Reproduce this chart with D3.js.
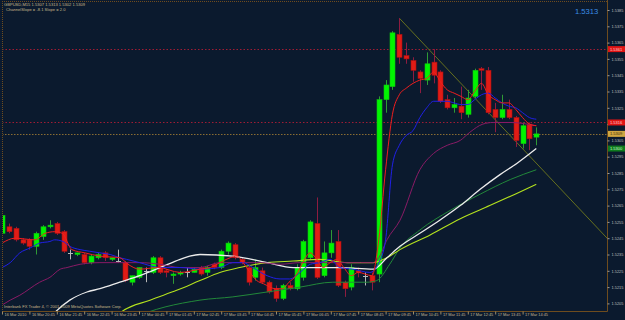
<!DOCTYPE html>
<html><head><meta charset="utf-8">
<script src="https://cdn.jsdelivr.net/npm/d3@7"></script>
<style>html,body{margin:0;padding:0;background:#0b1a2e;}svg{display:block;}</style>
</head><body><svg id="c" width="625" height="320"></svg>
<script>
// ---------- DATA ----------
const symbol = "GBPUSD,M15";
const opens  = [1.5248,1.5252,1.5251,1.5244,1.5244,1.5240,1.5246,1.5252,1.5254,1.5249,1.5236,1.5235,1.5235,1.5230,1.5233,1.5236,1.5232,1.5231,1.5230,1.5218,1.5221,1.5225,1.5224,1.5233,1.5225,1.5222,1.5223,1.5224,1.5224,1.5227,1.5224,1.5229,1.5227,1.5237,1.5241,1.5232,1.5227,1.5221,1.5225,1.5218,1.5214,1.5208,1.5216,1.5214,1.5221,1.5233,1.5254,1.5222,1.5236,1.5243,1.5218,1.5215,1.5225,1.5222,1.5222,1.5223,1.5330,1.5338,1.5370,1.5357,1.5354,1.5347,1.5342,1.5353,1.5347,1.5330,1.5325,1.5326,1.5321,1.5332,1.5349,1.5348,1.5324,1.5319,1.5324,1.5319,1.5303,1.5315,1.5307];
const highs  = [1.5260,1.5254,1.5252,1.5245,1.5245,1.5249,1.5253,1.5256,1.5255,1.5250,1.5238,1.5236,1.5236,1.5235,1.5236,1.5237,1.5233,1.5238,1.5231,1.5222,1.5227,1.5227,1.5234,1.5234,1.5226,1.5224,1.5225,1.5227,1.5227,1.5228,1.5228,1.5230,1.5238,1.5243,1.5242,1.5233,1.5229,1.5232,1.5227,1.5219,1.5216,1.5217,1.5218,1.5229,1.5244,1.5256,1.5270,1.5243,1.5250,1.5250,1.5219,1.5229,1.5227,1.5224,1.5224,1.5332,1.5342,1.5372,1.5380,1.5365,1.5356,1.5348,1.5359,1.5361,1.5348,1.5333,1.5331,1.5338,1.5336,1.5349,1.5350,1.5350,1.5328,1.5333,1.5330,1.5320,1.5316,1.5316,1.5313];
const lows   = [1.5246,1.5248,1.5243,1.5241,1.5238,1.5235,1.5244,1.5251,1.5247,1.5236,1.5232,1.5234,1.5229,1.5229,1.5232,1.5231,1.5231,1.5230,1.5218,1.5216,1.5220,1.5218,1.5223,1.5223,1.5221,1.5217,1.5222,1.5221,1.5224,1.5222,1.5222,1.5226,1.5226,1.5235,1.5232,1.5229,1.5216,1.5219,1.5217,1.5211,1.5206,1.5207,1.5213,1.5213,1.5219,1.5232,1.5220,1.5221,1.5233,1.5215,1.5209,1.5213,1.5221,1.5216,1.5213,1.5218,1.5322,1.5336,1.5352,1.5352,1.5341,1.5334,1.5339,1.5340,1.5328,1.5324,1.5322,1.5318,1.5319,1.5331,1.5336,1.5321,1.5310,1.5318,1.5318,1.5301,1.5300,1.5299,1.5302];
const closes = [1.5259,1.5249,1.5244,1.5242,1.5240,1.5248,1.5252,1.5253,1.5248,1.5237,1.5236,1.5236,1.5230,1.5234,1.5235,1.5233,1.5233,1.5231,1.5219,1.5222,1.5227,1.5225,1.5233,1.5224,1.5224,1.5223,1.5224,1.5224,1.5226,1.5223,1.5227,1.5227,1.5237,1.5242,1.5233,1.5230,1.5218,1.5227,1.5218,1.5212,1.5208,1.5216,1.5214,1.5227,1.5243,1.5255,1.5221,1.5236,1.5242,1.5216,1.5214,1.5227,1.5224,1.5222,1.5218,1.5330,1.5339,1.5371,1.5356,1.5355,1.5348,1.5343,1.5352,1.5345,1.5329,1.5325,1.5327,1.5322,1.5331,1.5348,1.5348,1.5322,1.5319,1.5324,1.5319,1.5305,1.5314,1.5306,1.5309];

// moving averages: [bar index, price]
const maRed = [[0,1.5242],[1.9,1.5245],[4.8,1.5244],[6.3,1.5248],[7.7,1.5249],[8.8,1.5248],[10.2,1.5238],[12.1,1.5236],[14.3,1.5234],[17.2,1.5233],[18.4,1.5229],[20.1,1.5226],[22.8,1.5227],[26,1.5224],[28.9,1.5226],[30.4,1.5227],[31.8,1.5230],[33.3,1.5233],[34.3,1.5234],[35.2,1.5230],[36.2,1.5224],[37.2,1.5219],[38.2,1.5217],[39.9,1.5214],[40.9,1.5214],[41.9,1.5218],[42.9,1.5222],[43.9,1.5230],[45,1.5236],[45.8,1.5233],[46.9,1.5227],[47.9,1.5230],[48.9,1.5232],[49.9,1.5227],[51,1.5222],[52,1.5224],[54,1.5222],[55,1.5244],[56,1.5287],[57,1.5321],[58,1.5333],[59,1.5337],[60,1.5340],[61,1.5342],[62,1.5343],[63,1.5347],[64,1.5341],[65,1.5336],[66,1.5334],[67,1.5332],[68,1.5330],[69,1.5335],[70,1.5340],[71,1.5333],[72,1.5330],[73,1.5328],[74,1.5328],[75,1.5324],[76,1.5319],[77,1.5315],[78,1.5314]];
const maBlue = [[0,1.5227],[1.2,1.5230],[2.6,1.5236],[4.1,1.5239],[5.5,1.5242],[7,1.5243],[7.7,1.5244],[8.9,1.5243],[9.9,1.5240],[11.4,1.5238],[12.8,1.5237],[14.3,1.5236],[15.8,1.5235],[17.2,1.5233],[18.2,1.5232],[20.1,1.5230],[23.1,1.5227],[26,1.5227],[28.9,1.5226],[31.8,1.5227],[33.7,1.5230],[35.2,1.5230],[36.6,1.5227],[38.7,1.5222],[40.6,1.5220],[42,1.5220],[43.5,1.5224],[45,1.5229],[46.4,1.5230],[47.9,1.5232],[49.3,1.5227],[51.2,1.5226],[53.7,1.5224],[55,1.5230],[56,1.5244],[57,1.5290],[58,1.5302],[59,1.5308],[60,1.5311],[61,1.5319],[62,1.5325],[63,1.5329],[64,1.5329],[65,1.5329],[66,1.5328],[67,1.5327],[68,1.5327],[69,1.5330],[70,1.5333],[71,1.5334],[72,1.5331],[73,1.5328],[74,1.5326],[75,1.5325],[76,1.5322],[77,1.5319],[78,1.5318]];
const maPurple = [[0,1.5204],[1.2,1.5207],[2.6,1.5210],[5.5,1.5218],[7,1.5221],[8.5,1.5226],[9.5,1.5227],[11.4,1.5229],[14.3,1.5230],[17.2,1.5230],[20.1,1.5230],[23.1,1.5229],[26,1.5227],[28.9,1.5227],[31.8,1.5230],[34.7,1.5230],[37.7,1.5230],[40.6,1.5229],[43.5,1.5230],[46.4,1.5230],[49.3,1.5230],[52.3,1.5230],[54.2,1.5230],[55,1.5233],[56.2,1.5244],[58.1,1.5256],[61,1.5287],[63,1.5297],[65,1.5302],[66.9,1.5305],[68.3,1.5310],[70.2,1.5315],[71.7,1.5316],[74.2,1.5316],[78,1.5314]];
const maWhite = [[5.5,1.5187],[7,1.5196],[9.9,1.5207],[12.4,1.5212],[14.3,1.5214],[17.2,1.5218],[20.1,1.5222],[23.1,1.5227],[26,1.5232],[27.4,1.5234],[28.9,1.5235],[33.7,1.5234],[38.7,1.5230],[42.5,1.5227],[46,1.5227],[49.3,1.5227],[54.2,1.5226],[56.2,1.5233],[58.1,1.5240],[61,1.5248],[63.9,1.5256],[66.9,1.5265],[69.8,1.5275],[72.7,1.5284],[75.2,1.5291],[78,1.5300]];
const maYellow = [[15.5,1.5190],[17.2,1.5199],[21.6,1.5207],[25.5,1.5213],[28.9,1.5219],[31.8,1.5224],[34.7,1.5227],[38.7,1.5230],[42.5,1.5231],[46.4,1.5232],[50.4,1.5230],[54.2,1.5230],[56.2,1.5233],[58.1,1.5238],[62.5,1.5247],[66.9,1.5257],[71.2,1.5265],[74.9,1.5272],[78,1.5278]];
const maGreen = [[16.5,1.5190],[18.7,1.5195],[28.9,1.5207],[33.7,1.5209],[38.7,1.5212],[43.5,1.5215],[48.3,1.5218],[53.3,1.5218],[54.7,1.5219],[56.6,1.5229],[58.1,1.5239],[61,1.5250],[65.4,1.5262],[69.8,1.5272],[74.2,1.5281],[78,1.5287]];

const priceTicks = [1.5385,1.5375,1.5365,1.5355,1.5345,1.5335,1.5325,1.5315,1.5305,1.5295,1.5285,1.5275,1.5265,1.5255,1.5245,1.5235,1.5225,1.5215,1.5205];
const timeTickBars = [0,4,8,12,16,20,24,28,32,36,40,44,48,52,56,60,64,68,72,76];
const timeLabels = ["16 Mar 2010","16 Mar 20:45","16 Mar 21:45","16 Mar 22:45","16 Mar 23:45","17 Mar 00:45","17 Mar 01:45","17 Mar 02:45","17 Mar 03:45","17 Mar 04:45","17 Mar 05:45","17 Mar 06:45","17 Mar 07:45","17 Mar 08:45","17 Mar 09:45","17 Mar 10:45","17 Mar 11:45","17 Mar 12:45","17 Mar 13:45","17 Mar 14:45"];
const levelPrices = [1.5361, 1.5316];
const bidPrice = 1.5309;
const greenLabelPrice = 1.5300;
const trendPoints = [[58,1.5380],[78,1.5291]];
const bigLabel = "1.5313";
const subtitle = "ChannelSlope = -8.1  Slope = 2.0";
const footer = "Interbank FX Trader 4, \u00a9 2001-2009 MetaQuotes Software Corp.";

// ---------- CHART ----------
const W = 625, H = 320;
const pL = 2, pR = 607, pT = 1, pB = 311;
const FONT = "Liberation Sans, Arial, sans-serif";
const svg = d3.select("#c");
svg.append("rect").attr("width", W).attr("height", H).attr("fill", "#0b1a2e");

const x = d3.scaleLinear().domain([0, 88]).range([2, 2 + 88 * 6.85]);
const y = d3.scaleLinear().domain([1.5205, 1.5385]).range([303.4, 10]);
const fmt = d3.format(".4f");

svg.append("clipPath").attr("id", "clip").append("rect")
  .attr("x", pL + 1).attr("y", pT + 1).attr("width", pR - pL - 1).attr("height", pB - pT - 1);
const plot = svg.append("g").attr("clip-path", "url(#clip)");

// level lines
levelPrices.forEach(p => {
  plot.append("line").attr("x1", pL).attr("x2", pR)
    .attr("y1", Math.round(y(p)) + 0.5).attr("y2", Math.round(y(p)) + 0.5)
    .attr("stroke", "#a01c34").attr("stroke-width", 1).attr("stroke-dasharray", "1.5,2");
});
plot.append("line").attr("x1", pL).attr("x2", pR)
  .attr("y1", Math.round(y(bidPrice)) + 0.5).attr("y2", Math.round(y(bidPrice)) + 0.5)
  .attr("stroke", "#8a6d32").attr("stroke-width", 1).attr("stroke-dasharray", "1.5,1.5");

// trend line (ray)
const slope = (trendPoints[1][1] - trendPoints[0][1]) / (trendPoints[1][0] - trendPoints[0][0]);
const xEnd = x.invert(pR + 2);
plot.append("line")
  .attr("x1", x(trendPoints[0][0])).attr("y1", y(trendPoints[0][1]))
  .attr("x2", x(xEnd)).attr("y2", y(trendPoints[0][1] + slope * (xEnd - trendPoints[0][0])))
  .attr("stroke", "#66701f").attr("stroke-width", 1);

// candles
const bars = opens.map((o, i) => ({i, o, h: highs[i], l: lows[i], c: closes[i]}));
const cg = plot.append("g");
bars.forEach(b => {
  const cx = Math.round(x(b.i)) + 0.5;
  const doji = Math.abs(b.o - b.c) < 0.00005;
  const up = b.c > b.o;
  const wickCol = doji ? "#b8b8b8" : (up ? "#2f9a36" : "#8e1c40");
  cg.append("line").attr("x1", cx).attr("x2", cx)
    .attr("y1", y(b.h)).attr("y2", y(b.l)).attr("stroke", wickCol).attr("stroke-width", 1);
  if (doji) {
    cg.append("line").attr("x1", cx - 2.5).attr("x2", cx + 2.5)
      .attr("y1", Math.round(y(b.o)) + 0.5).attr("y2", Math.round(y(b.o)) + 0.5)
      .attr("stroke", "#b8b8b8").attr("stroke-width", 1);
  } else {
    const y0 = Math.min(y(b.o), y(b.c)), hh = Math.max(1.5, Math.abs(y(b.o) - y(b.c)));
    cg.append("rect").attr("x", cx - 2.5).attr("y", y0).attr("width", 5).attr("height", hh)
      .attr("fill", up ? "#00f500" : "#e01c16")
      .attr("stroke", up ? "#10c010" : "#b01010").attr("stroke-width", 0.6);
  }
});

// moving averages
const line = d3.line().x(d => x(d[0])).y(d => y(d[1])).curve(d3.curveMonotoneX);
[[maGreen, "#22883a", 1], [maYellow, "#b4e21e", 1.1], [maWhite, "#ececec", 1.3],
 [maPurple, "#8a1a66", 1], [maBlue, "#2020e6", 1], [maRed, "#f01e1e", 1]].forEach(([data, col, w]) => {
  plot.append("path").datum(data).attr("d", line).attr("fill", "none")
    .attr("stroke", col).attr("stroke-width", w);
});

// frame
const frameCol = "#6e4c1e";
svg.append("line").attr("x1", pL).attr("x2", pR).attr("y1", pT + 0.5).attr("y2", pT + 0.5)
  .attr("stroke", frameCol).attr("stroke-dasharray", "1,1");
svg.append("line").attr("x1", pL + 0.5).attr("x2", pL + 0.5).attr("y1", pT).attr("y2", pB)
  .attr("stroke", frameCol).attr("stroke-dasharray", "1,1");

// right price axis (labels hidden behind the price boxes are not drawn, as in the terminal)
const boxPrices = levelPrices.concat([bidPrice, greenLabelPrice]);
const hidden = p => boxPrices.some(bp => Math.abs(y(bp) - y(p)) < 5);
const yAxis = d3.axisRight(y).tickValues(priceTicks).tickFormat(p => hidden(p) ? "" : fmt(p)).tickSize(2).tickPadding(2);
const ya = svg.append("g").attr("transform", `translate(${pR + 0.5},0)`).call(yAxis);
ya.select(".domain").attr("stroke", frameCol).attr("d", `M0,0V${pB + 0.5}`);
ya.selectAll(".tick line").attr("stroke", "#9a9a9a");
ya.selectAll("text").attr("fill", "#bdbdbd").attr("font-size", "3.9px").attr("font-family", FONT);

// bottom time axis
const xAxis = d3.axisBottom(x).tickValues(timeTickBars).tickFormat((d, i) => timeLabels[i]).tickSize(3).tickPadding(0);
const xa = svg.append("g").attr("transform", `translate(0,${pB + 0.5})`).call(xAxis);
xa.select(".domain").attr("stroke", frameCol).attr("d", `M${pL},0H${pR + 0.5}`);
xa.selectAll(".tick line").attr("stroke", "#9a8a6a");
xa.selectAll("text").attr("fill", "#c4b694").attr("font-size", "3.9px")
  .attr("font-family", FONT).attr("text-anchor", "start")
  .attr("dx", 2).attr("y", 2);

// price boxes
function priceBox(p, fill, txt) {
  const yy = y(p);
  svg.append("rect").attr("x", pR + 1).attr("y", yy - 3).attr("width", 18).attr("height", 6).attr("fill", fill);
  svg.append("text").attr("x", pR + 3).attr("y", yy + 1.5).text(fmt(p))
    .attr("fill", txt).attr("font-size", "4px").attr("font-family", FONT);
}
levelPrices.forEach(p => priceBox(p, "#e01414", "#ffd0d0"));
priceBox(bidPrice, "#d0a640", "#3a2a08");
priceBox(greenLabelPrice, "#0f7a1e", "#c8ffc8");

// header texts
const last = bars[bars.length - 1];
svg.append("text").attr("x", 4).attr("y", 5.5)
  .text(`${symbol}  ${fmt(last.o)} ${fmt(last.h)} ${fmt(last.l)} ${fmt(last.c)}`)
  .attr("fill", "#c8b88a").attr("font-size", "4.1px").attr("font-family", FONT);
svg.append("text").attr("x", 6).attr("y", 10.5).text(subtitle)
  .attr("fill", "#c8b88a").attr("font-size", "4.1px").attr("font-family", FONT);
svg.append("text").attr("x", 575).attr("y", 14).text(bigLabel)
  .attr("fill", "#3a8ee6").attr("font-size", "7.6px").attr("font-family", FONT);
svg.append("text").attr("x", 4).attr("y", 307.5).text(footer)
  .attr("fill", "#c8b88a").attr("font-size", "4.1px").attr("font-family", FONT);
</script></body></html>
